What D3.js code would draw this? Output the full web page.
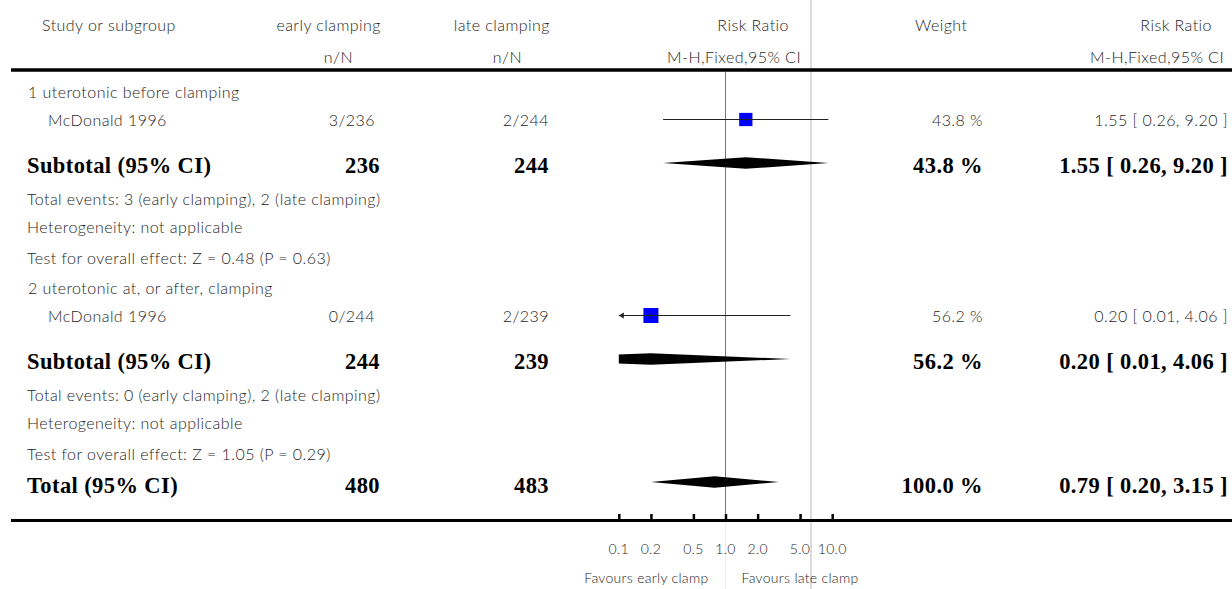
<!DOCTYPE html>
<html>
<head>
<meta charset="utf-8">
<script src="https://cdn.jsdelivr.net/npm/d3@7"></script>
<style>
  html, body { margin: 0; padding: 0; background: #fff; }
  svg { display: block; }
  .t { font-family: "Lato", "Open Sans", sans-serif; font-weight: 300; font-size: 16px; letter-spacing: 0.45px; fill: #262626; }
  .s { font-family: "Lato", "Open Sans", sans-serif; font-weight: 300; font-size: 14px; letter-spacing: 0.3px; fill: #262626; }
  .b { font-family: "Liberation Serif", "DejaVu Serif", serif; font-weight: bold; font-size: 22.5px; letter-spacing: 0.4px; fill: #000; }
</style>
</head>
<body>
<script>
// ---------------- data ----------------
const subgroupLabels = ["1 uterotonic before clamping", "2 uterotonic at, or after, clamping"];
const studyLabels = ["McDonald 1996", "McDonald 1996"];
const earlyEvents = [3, 0];
const earlyTotals = [236, 244];
const lateEvents = [2, 2];
const lateTotals = [244, 239];
const studyWeights = [43.8, 56.2];
const studyRR = [1.55, 0.20];
const studyLo = [0.26, 0.01];
const studyHi = [9.20, 4.06];
const subtotalRR = [1.55, 0.20];
const subtotalLo = [0.26, 0.01];
const subtotalHi = [9.20, 4.06];
const subtotalWeights = [43.8, 56.2];
const totalEventsText = ["Total events: 3 (early clamping), 2 (late clamping)", "Total events: 0 (early clamping), 2 (late clamping)"];
const heterogeneityText = ["Heterogeneity: not applicable", "Heterogeneity: not applicable"];
const overallEffectText = ["Test for overall effect: Z = 0.48 (P = 0.63)", "Test for overall effect: Z = 1.05 (P = 0.29)"];
const totalN = [480, 483];
const totalWeight = 100.0;
const totalRR = [0.79, 0.20, 3.15];
const tickValues = [0.1, 0.2, 0.5, 1, 2, 5, 10];
const tickLabels = ["0.1", "0.2", "0.5", "1.0", "2.0", "5.0", "10.0"];
const favourLabels = ["Favours early clamp", "Favours late clamp"];

// ---------------- layout ----------------
const W = 1232, H = 589;
const svg = d3.select("body").append("svg").attr("width", W).attr("height", H);

const x = d3.scaleLog().domain([0.1, 10]).range([618.8, 832.2]);
const colStudy = 27, colIndent = 48, colEarly = 377, colLate = 549, colNN1 = 353, colNN2 = 522;
const colRRhead = 789, colRRsub = 800, colWeightHead = 915, colWeight = 983, colRight = 1228;

const fmt2 = d3.format(".2f");
const ciText = (r, l, h) => `${fmt2(r)} [ ${fmt2(l)}, ${fmt2(h)} ]`;

// light gray separator
svg.append("line").attr("x1", 811).attr("x2", 811).attr("y1", 0).attr("y2", H)
  .attr("stroke", "#dcdcdc").attr("stroke-width", 2);

// faint line under axis
svg.append("line").attr("x1", x(1)).attr("x2", x(1)).attr("y1", 522).attr("y2", H)
  .attr("stroke", "#eeeeee").attr("stroke-width", 1);

function txt(xp, yp, s, cls, anchor) {
  return svg.append("text").attr("class", cls).attr("x", xp).attr("y", yp)
    .attr("text-anchor", anchor || "start").text(s);
}
// header
txt(42, 31, "Study or subgroup", "t");
txt(colEarly + 4, 31, "early clamping", "t", "end");
txt(colLate + 1, 31, "late clamping", "t", "end");
txt(colNN1, 63, "n/N", "t", "end");
txt(colNN2, 63, "n/N", "t", "end");
txt(colRRhead, 31, "Risk Ratio", "t", "end");
txt(colRRsub + 1, 63, "M-H,Fixed,95% CI", "t", "end");
txt(colWeightHead, 31, "Weight", "t");
txt(1212, 31, "Risk Ratio", "t", "end");
txt(1224, 63, "M-H,Fixed,95% CI", "t", "end");

// thick rule under header
svg.append("line").attr("x1", 11).attr("x2", W).attr("y1", 70).attr("y2", 70)
  .attr("stroke", "#000").attr("stroke-width", 3.4);

// vertical no-effect line
svg.append("line").attr("x1", x(1)).attr("x2", x(1)).attr("y1", 72).attr("y2", 520)
  .attr("stroke", "#777").attr("stroke-width", 1);

// clip for plot area
svg.append("clipPath").attr("id", "plotclip").append("rect")
  .attr("x", x(0.1)).attr("y", 72).attr("width", x(10) - x(0.1)).attr("height", 450);
const plot = svg.append("g").attr("clip-path", "url(#plotclip)");

const sqScale = d3.scaleSqrt().domain([0, 100]).range([0, 20]);

function diamond(rr, lo, hi, yc, hh) {
  const pts = [[x(lo), yc], [x(rr), yc - hh], [x(hi), yc], [x(rr), yc + hh]];
  plot.append("path").attr("d", d3.line()(pts) + "Z").attr("fill", "#000");
}

function study(i, yc) {
  const x0 = Math.max(x(studyLo[i]), x(0.1));
  const x1 = Math.min(x(studyHi[i]), x(10));
  const s = sqScale(studyWeights[i]);
  svg.append("rect").attr("x", x(studyRR[i]) - s / 2).attr("y", yc - s / 2)
    .attr("width", s).attr("height", s).attr("fill", "#0000ff");
  svg.append("line").attr("x1", x0).attr("x2", x1).attr("y1", yc).attr("y2", yc)
    .attr("stroke", "#222").attr("stroke-width", 1.2);
  svg.append("line").attr("x1", x(studyRR[i])).attr("x2", x(studyRR[i])).attr("y1", yc - 2).attr("y2", yc + 2)
    .attr("stroke", "#222").attr("stroke-width", 1);
  if (studyLo[i] < 0.1) {
    const ax = x(0.1);
    svg.append("path").attr("d", `M${ax},${yc} L${ax + 5},${yc - 3} L${ax + 5},${yc + 3} Z`).attr("fill", "#222");
  }
}

// groups
const groupTop = [98, 294];
for (let g = 0; g < 2; g++) {
  const y0 = groupTop[g];
  txt(colStudy + 1, y0, subgroupLabels[g], "t");
  txt(colIndent, y0 + 28, studyLabels[g], "t");
  txt(colEarly - 2, y0 + 28, `${earlyEvents[g]}/${earlyTotals[g]}`, "t", "end");
  txt(colLate, y0 + 28, `${lateEvents[g]}/${lateTotals[g]}`, "t", "end");
  txt(colWeight, y0 + 28, `${studyWeights[g].toFixed(1)} %`, "t", "end");
  txt(colRight, y0 + 28, ciText(studyRR[g], studyLo[g], studyHi[g]), "t", "end");
  study(g, y0 + 21.5);

  txt(colStudy, y0 + 75, "Subtotal (95% CI)", "b");
  txt(colEarly + 3, y0 + 75, String(earlyTotals[g]), "b", "end");
  txt(colLate, y0 + 75, String(lateTotals[g]), "b", "end");
  txt(colWeight, y0 + 75, `${subtotalWeights[g].toFixed(1)} %`, "b", "end");
  txt(colRight, y0 + 75, ciText(subtotalRR[g], subtotalLo[g], subtotalHi[g]), "b", "end");
  diamond(subtotalRR[g], subtotalLo[g], subtotalHi[g], y0 + 65, 5.8);

  txt(colStudy, y0 + 107, totalEventsText[g], "t");
  txt(colStudy, y0 + 135, heterogeneityText[g], "t");
  txt(colStudy, y0 + 166, overallEffectText[g], "t");
}

// total
txt(colStudy, 493, "Total (95% CI)", "b");
txt(colEarly + 3, 493, String(totalN[0]), "b", "end");
txt(colLate, 493, String(totalN[1]), "b", "end");
txt(colWeight, 493, `${totalWeight.toFixed(1)} %`, "b", "end");
txt(colRight, 493, ciText(totalRR[0], totalRR[1], totalRR[2]), "b", "end");
diamond(totalRR[0], totalRR[1], totalRR[2], 482, 5.8);

// bottom axis
svg.append("line").attr("x1", 11).attr("x2", W).attr("y1", 520.5).attr("y2", 520.5)
  .attr("stroke", "#000").attr("stroke-width", 3);
const axis = d3.axisTop(x).tickValues(tickValues).tickSize(6).tickFormat("");
const ag = svg.append("g").attr("transform", "translate(0,520)").call(axis);
ag.select(".domain").remove();
ag.selectAll(".tick line").attr("stroke", "#000").attr("stroke-width", 2.5);

svg.append("g").selectAll("text").data(tickValues).join("text")
  .attr("class", "s")
  .attr("x", d => x(d)).attr("y", 554).attr("text-anchor", "middle")
  .text((d, i) => tickLabels[i]);

txt(x(1) - 17, 583, favourLabels[0], "s", "end");
txt(x(1) + 16, 583, favourLabels[1], "s", "start");
</script>
</body>
</html>
